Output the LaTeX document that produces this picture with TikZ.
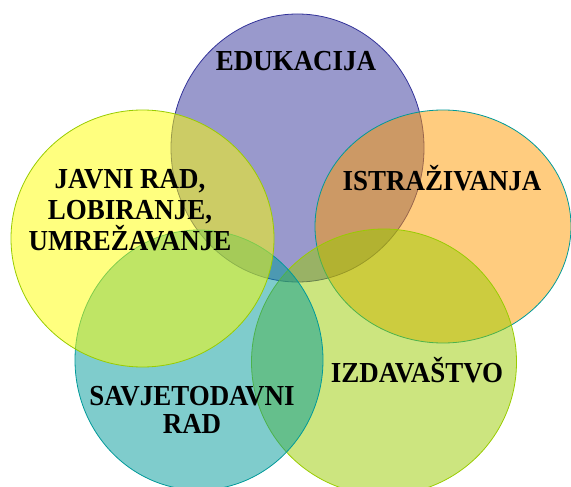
\documentclass[tikz,border=0pt]{standalone}
\usepackage{fontspec}
\setmainfont{Liberation Serif}[FakeStretch=0.93]
\definecolor{eduBlue}{RGB}{51,51,153}
\definecolor{javYellow}{RGB}{255,255,0}
\definecolor{istOrange}{RGB}{255,153,0}
\definecolor{izdGreen}{RGB}{153,204,0}
\definecolor{savTeal}{RGB}{0,153,153}
\begin{document}
\begin{tikzpicture}[x=1pt,y=-1pt,
    area/.style={fill opacity=.5, line width=.8pt},
    field/.style={font=\bfseries\fontsize{29}{31}\selectfont, align=center, inner sep=0pt},
  ]
  \useasboundingbox (0,0) rectangle (571,487);
  \coordinate (edu) at (297.5,148);
  \coordinate (jav) at (142.5,238.5);
  \coordinate (ist) at (443,226.5);
  \coordinate (izd) at (384,362);
  \coordinate (sav) at (199,360);
  \filldraw[area, fill=eduBlue, draw=eduBlue] (edu) ellipse [x radius=126.5pt, y radius=134pt];
  \filldraw[area, fill=istOrange, draw=savTeal] (ist) ellipse [x radius=128pt, y radius=116.5pt];
  \filldraw[area, fill=izdGreen, draw=izdGreen] (izd) ellipse [x radius=132.5pt, y radius=133pt];
  \filldraw[area, fill=savTeal, draw=savTeal] (sav) ellipse [x radius=124pt, y radius=130pt];
  \filldraw[area, fill=javYellow, draw=izdGreen] (jav) ellipse [x radius=131.5pt, y radius=128.5pt];
  \node[field, anchor=base] (eduText) at (296,71) {EDUKACIJA};
  \node[field] (javText) at (130,210.5) {JAVNI RAD,\\ LOBIRANJE,\\ UMREŽAVANJE};
  \node[field, anchor=base] (istText) at (442,190) {ISTRAŽIVANJA};
  \node[field, anchor=base] (izdText) at (417,382) {IZDAVAŠTVO};
  \node[field, font=\bfseries\fontsize{29}{27.5}\selectfont] (savText) at (192,410) {SAVJETODAVNI\\ RAD};
\end{tikzpicture}
\end{document}
